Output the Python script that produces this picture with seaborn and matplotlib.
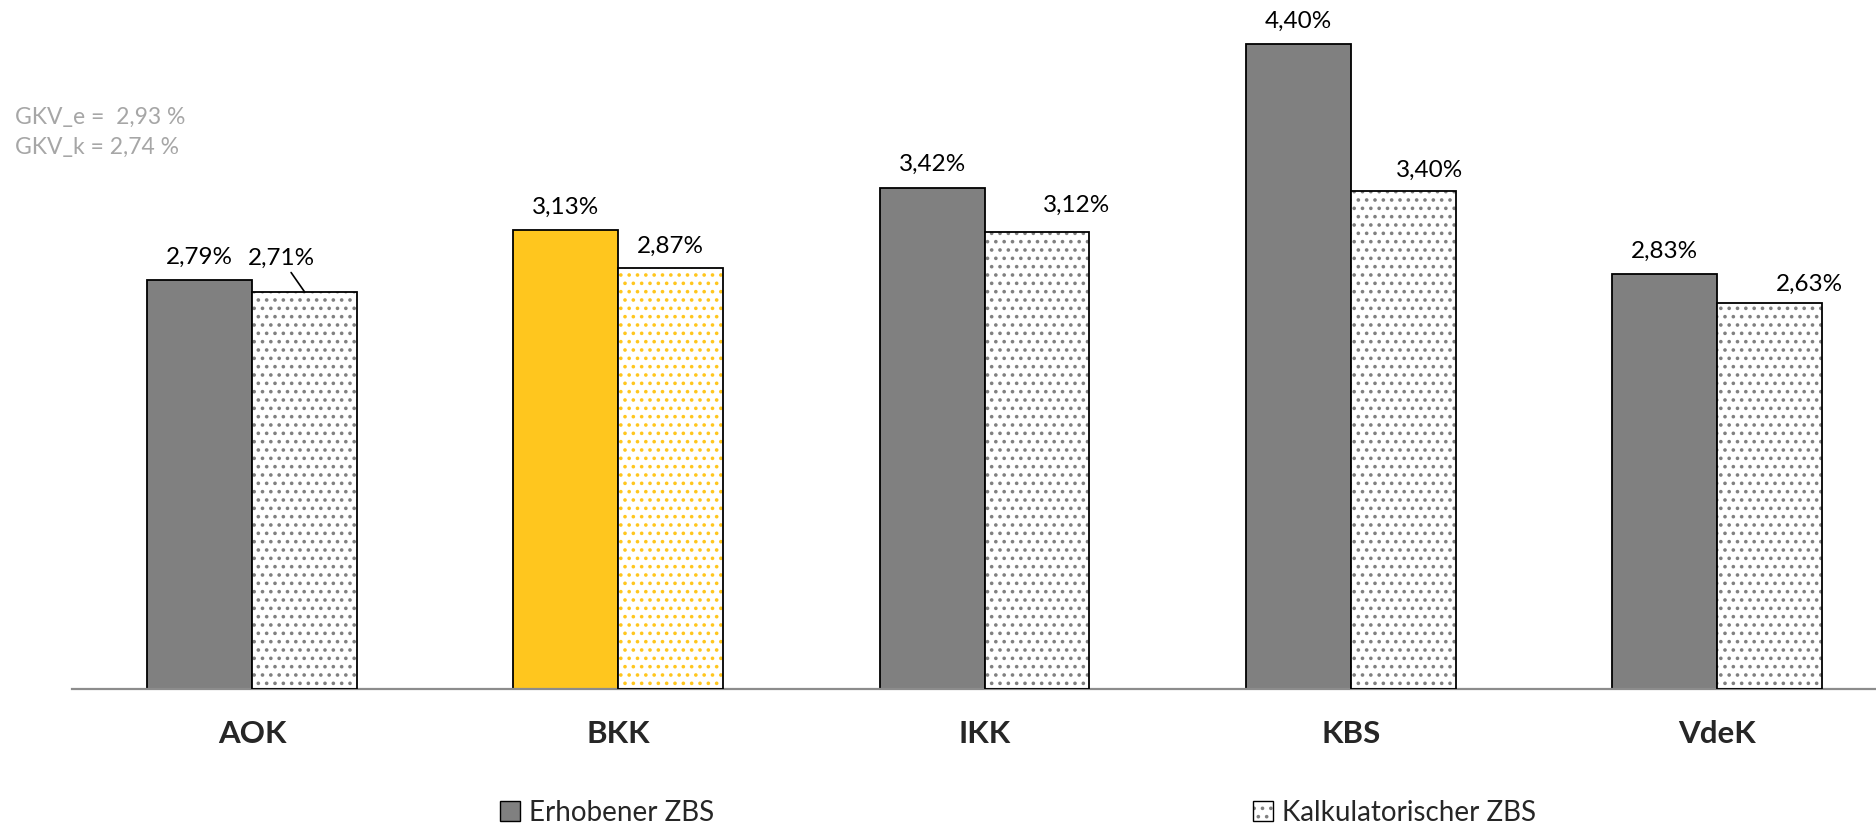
import pandas as pd
import matplotlib.pyplot as plt
import seaborn as sns
from matplotlib.patches import Patch, Rectangle

# data
kassen = ["AOK", "BKK", "IKK", "KBS", "VdeK"]
erhoben = [2.79, 3.13, 3.42, 4.40, 2.83]
kalkuliert = [2.71, 2.87, 3.12, 3.40, 2.63]
serien = ["Erhobener ZBS", "Kalkulatorischer ZBS"]
gkv_e = 2.93
gkv_k = 2.74
highlight = "BKK"

# styling
GREY = "#808080"
YELLOW = "#FFC61E"
W, H = 1876, 827
# label offsets in pixels (dx, dy above bar top) for the calculated series
kalk_offsets = [(-23, 33), (0, 22), (40, 26), (26, 20), (40, 19)]
kalk_leader = [True, False, False, False, False]


def de(v):
    return f"{v:.2f}".replace(".", ",")


df = pd.DataFrame({
    "Kasse": kassen * 2,
    "Serie": [serien[0]] * len(kassen) + [serien[1]] * len(kassen),
    "ZBS": erhoben + kalkuliert,
})

sns.set_theme(style="white")
plt.rcParams["font.family"] = ["Lato", "DejaVu Sans"]
plt.rcParams["hatch.linewidth"] = 1.4

fig = plt.figure(figsize=(W / 100, H / 100), dpi=100)
ax = fig.add_axes([72 / W, 138 / H, 1804 / W, 689 / H])

sns.barplot(data=df, x="Kasse", y="ZBS", hue="Serie", hue_order=serien,
            palette=[GREY, "white"], width=0.573, errorbar=None,
            edgecolor="black", linewidth=1.3, legend=False, ax=ax)

# measured series: grey bars, highlighted fund in yellow
for kasse, bar, v in zip(kassen, ax.containers[0], erhoben):
    if kasse == highlight:
        bar.set_facecolor(YELLOW)
    ax.annotate(de(v) + "%", (bar.get_x() + bar.get_width() / 2, bar.get_height()),
                xytext=(0, 23), textcoords="offset pixels",
                ha="center", va="center", fontsize=17.5, color="black")

# calculated series: dotted bars
for kasse, bar, v, off, lead in zip(kassen, ax.containers[1], kalkuliert,
                                    kalk_offsets, kalk_leader):
    dot = YELLOW if kasse == highlight else GREY
    bar.set_facecolor("white")
    bar.set_hatch("..")
    bar.set_edgecolor(dot)
    bar.set_linewidth(0)
    ax.add_patch(Rectangle(bar.get_xy(), bar.get_width(), bar.get_height(),
                           fill=False, edgecolor="black", linewidth=1.3, zorder=3))
    arrow = dict(arrowstyle="-", color="black", lw=1.2, shrinkA=0, shrinkB=0) if lead else None
    ax.annotate(de(v) + "%", (bar.get_x() + bar.get_width() / 2, bar.get_height()),
                xytext=off, textcoords="offset pixels", arrowprops=arrow,
                ha="center", va="center", fontsize=17.5, color="black")

ax.set_xlim(-0.4915, 4.434)
ax.set_ylim(0, 4.70)
ax.set_xlabel("")
ax.set_ylabel("")
ax.set_yticks([])
for s in ["top", "left", "right"]:
    ax.spines[s].set_visible(False)
ax.spines["bottom"].set_color("#8c8c8c")
ax.spines["bottom"].set_linewidth(1.6)
ax.tick_params(axis="x", length=0, pad=22)
for lbl in ax.get_xticklabels():
    lbl.set_fontweight("bold")
    lbl.set_fontsize(22.5)

# GKV averages, top left
fig.text(15 / W, 1 - 117 / H, f"GKV_e =  {de(gkv_e)} %", color="#a6a6a6",
         fontsize=16.5, va="center", ha="left")
fig.text(15 / W, 1 - 147 / H, f"GKV_k = {de(gkv_k)} %", color="#a6a6a6",
         fontsize=16.5, va="center", ha="left")

# legend, two separate entries along the bottom
h1 = Patch(facecolor=GREY, edgecolor="black", linewidth=1.0)
h2 = (Patch(facecolor="white", edgecolor=GREY, hatch="..", linewidth=0),
      Patch(facecolor="none", edgecolor="black", linewidth=1.0))
for handle, label, xpx in [(h1, serien[0], 500), (h2, serien[1], 1253)]:
    fig.legend([handle], [label], loc="center left",
               bbox_to_anchor=(xpx / W, 1 - 813 / H), frameon=False,
               borderpad=0, borderaxespad=0, fontsize=20,
               handlelength=0.72, handleheight=0.72, handletextpad=0.34)

fig.savefig("out.png", dpi=100)
